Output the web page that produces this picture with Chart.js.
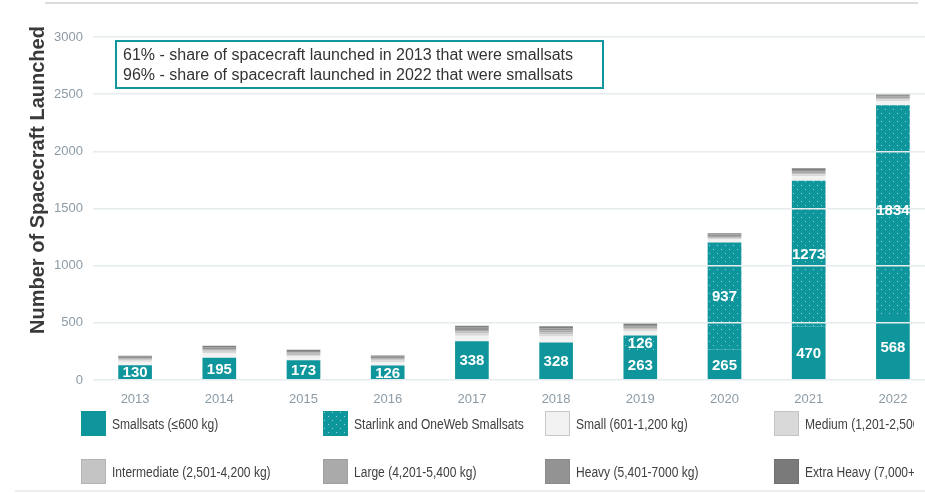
<!DOCTYPE html>
<html>
<head>
<meta charset="utf-8">
<script src="https://cdn.jsdelivr.net/npm/chart.js@4.4.1/dist/chart.umd.min.js"></script>
<style>
  body { margin: 0; width: 925px; height: 493px; overflow: hidden; background: #fff; position: relative; }
  #wrap { position: absolute; left: 0; top: 0; width: 960px; height: 410px; }
  #legend { position: absolute; left: 0; top: 405px; width: 914px; height: 85px; overflow: hidden; }
  .rule { position: absolute; height: 2px; }
  .item { position: absolute; display: flex; align-items: center; font-family: "Liberation Sans", Arial, sans-serif; font-size: 14px; color: #404040; white-space: nowrap; }
  .item span { display: inline-block; transform: scaleX(0.86); transform-origin: left center; }
  .box { width: 25px; height: 25px; box-sizing: border-box; margin-right: 6px; }
</style>
</head>
<body>
<div class="rule" style="left:45px; top:2px; width:873px; background:#dcdcdc;"></div>
<div id="wrap"><canvas id="chart"></canvas></div>
<div id="legend"></div>
<div class="rule" style="left:15px; top:490px; width:910px; background:#eeeeee;"></div>
<script>
const years = ["2013", "2014", "2015", "2016", "2017", "2018", "2019", "2020", "2021", "2022"];
const smallsats = [130, 195, 173, 126, 338, 328, 263, 265, 470, 568];
const starlinkOneWeb = [0, 0, 0, 0, 0, 0, 126, 937, 1273, 1834];
const small = [30, 36, 32, 31, 50, 52, 37, 27, 38, 36];
const medium = [12, 15, 14, 13, 20, 21, 16, 12, 16, 16];
const intermediate = [10, 13, 11, 11, 16, 17, 13, 10, 13, 13];
const large = [9, 11, 10, 10, 14, 14, 11, 9, 11, 11];
const heavy = [12, 16, 13, 13, 20, 21, 16, 12, 16, 16];
const extraHeavy = [10, 14, 12, 11, 17, 17, 14, 11, 15, 14];
const yTicks = [0, 500, 1000, 1500, 2000, 2500, 3000];
const noteLines = [
  "61% - share of spacecraft launched in 2013 that were smallsats",
  "96% - share of spacecraft launched in 2022 that were smallsats",
];
const yTitle = "Number of Spacecraft Launched";

const teal = "#0f969c";

// dotted teal fill for Starlink / OneWeb
const patCanvas = document.createElement("canvas");
patCanvas.width = 8;
patCanvas.height = 8;
const pctx = patCanvas.getContext("2d");
pctx.fillStyle = teal;
pctx.fillRect(0, 0, 8, 8);
pctx.fillStyle = "rgba(255,255,255,0.55)";
pctx.fillRect(1, 1, 1, 1);
pctx.fillRect(5, 5, 1, 1);
const dotted = document.getElementById("chart").getContext("2d").createPattern(patCanvas, "repeat");

const series = [
  { label: "Smallsats (\u2264600 kg)", data: smallsats, color: teal, legend: teal },
  { label: "Starlink and OneWeb Smallsats", data: starlinkOneWeb, color: dotted, legend: "url(" + patCanvas.toDataURL() + ")" },
  { label: "Small (601-1,200 kg)", data: small, color: "#f2f2f2", legend: "#f2f2f2", border: "#c8c8c8" },
  { label: "Medium (1,201-2,500 kg)", data: medium, color: "#d9d9d9", legend: "#d9d9d9", border: "#c4c4c4" },
  { label: "Intermediate (2,501-4,200 kg)", data: intermediate, color: "#bfbfbf", legend: "#c4c4c4", border: "#b4b4b4" },
  { label: "Large (4,201-5,400 kg)", data: large, color: "#a6a6a6", legend: "#aaaaaa", border: "#a0a0a0" },
  { label: "Heavy (5,401-7000 kg)", data: heavy, color: "#939393", legend: "#939393", border: "#8a8a8a" },
  { label: "Extra Heavy (7,000+ kg)", data: extraHeavy, color: "#7f7f7f", legend: "#7a7a7a", border: "#707070" },
];

const decorations = {
  id: "decorations",
  afterDraw(chart) {
    const c = chart.ctx;
    // values inside the teal segments
    c.save();
    c.font = "bold 15px 'Liberation Sans', Arial, sans-serif";
    c.fillStyle = "#ffffff";
    c.textAlign = "center";
    c.textBaseline = "middle";
    [0, 1].forEach((di) => {
      chart.getDatasetMeta(di).data.forEach((bar, i) => {
        const v = chart.data.datasets[di].data[i];
        if (!v) return;
        c.fillText(String(v), bar.x, (bar.y + bar.base) / 2 + 1);
      });
    });
    // note box
    c.strokeStyle = teal;
    c.lineWidth = 2;
    c.strokeRect(116, 41, 487, 47);
    c.font = "16px 'Liberation Sans', Arial, sans-serif";
    c.fillStyle = "#333333";
    c.textAlign = "left";
    c.fillText(noteLines[0], 123, 56);
    c.fillText(noteLines[1], 123, 76);
    // y axis title
    c.translate(38, 180);
    c.rotate(-Math.PI / 2);
    c.textAlign = "center";
    c.font = "bold 20px 'Liberation Sans', Arial, sans-serif";
    c.fillStyle = "#3a3a3a";
    c.fillText(yTitle, 0, 0);
    c.restore();
  },
};

new Chart(document.getElementById("chart"), {
  type: "bar",
  data: {
    labels: years,
    datasets: series.map((s) => ({
      label: s.label,
      data: s.data,
      backgroundColor: s.color,
      borderWidth: 0,
      barPercentage: 0.4,
      categoryPercentage: 1,
    })),
  },
  options: {
    responsive: true,
    maintainAspectRatio: false,
    animation: false,
    layout: { padding: { top: 37, right: 25, left: 0, bottom: 0 } },
    plugins: { legend: { display: false }, tooltip: { enabled: false } },
    scales: {
      x: {
        stacked: true,
        grid: { display: false },
        border: { display: false },
        ticks: { color: "#8c9ba6", font: { size: 13, family: "'Liberation Sans', Arial, sans-serif" }, padding: 4 },
        afterFit: (s) => { s.height = 30; },
      },
      y: {
        stacked: true,
        min: 0,
        max: 3000,
        afterBuildTicks: (s) => { s.ticks = yTicks.map((v) => ({ value: v })); },
        grid: { color: "#e6ebed", lineWidth: 1.5, drawTicks: false, z: 1 },
        border: { display: false },
        ticks: {
          color: "#8c9ba6",
          font: { size: 13, family: "'Liberation Sans', Arial, sans-serif" },
          padding: 10,
          callback: (v) => String(v),
        },
        afterFit: (s) => { s.width = 93; },
      },
    },
  },
  plugins: [decorations],
});

// legend in a fixed 4 x 2 grid (positions relative to the legend block)
const colX = [81, 323, 545, 774];
const rowY = [6, 54];
const legend = document.getElementById("legend");
series.forEach((s, i) => {
  const item = document.createElement("div");
  item.className = "item";
  item.style.left = colX[i % 4] + "px";
  item.style.top = rowY[Math.floor(i / 4)] + "px";
  const box = document.createElement("div");
  box.className = "box";
  box.style.background = s.legend;
  if (s.border) box.style.border = "1px solid " + s.border;
  const txt = document.createElement("span");
  txt.textContent = s.label;
  item.appendChild(box);
  item.appendChild(txt);
  legend.appendChild(item);
});
</script>
</body>
</html>
